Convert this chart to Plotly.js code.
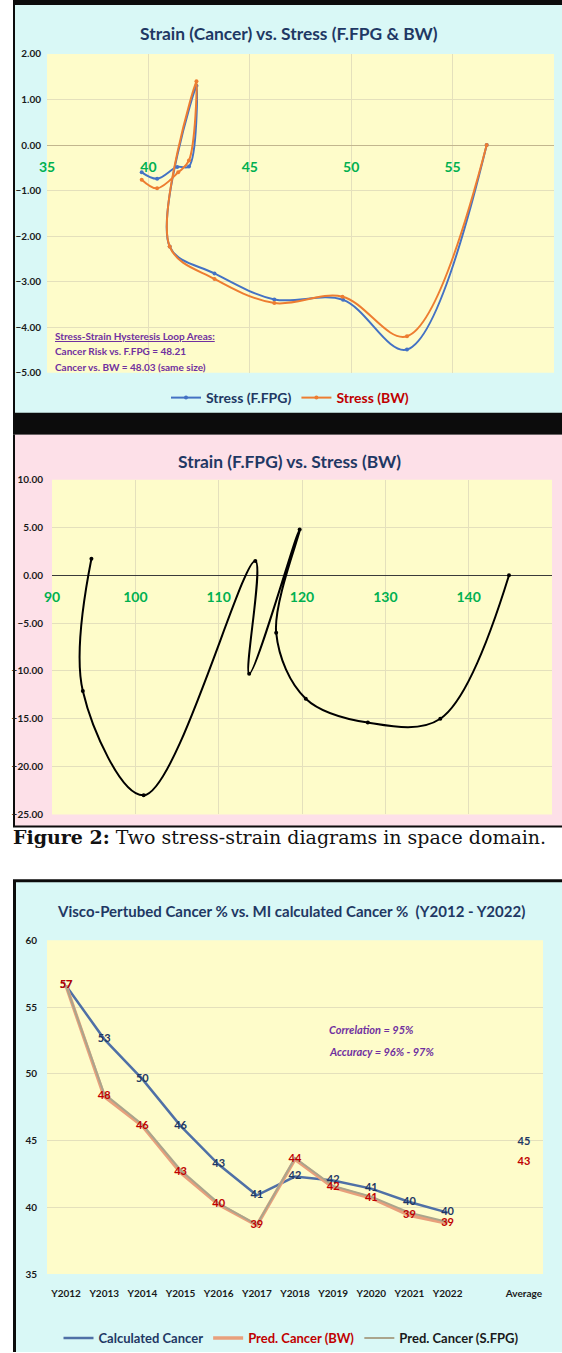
<!DOCTYPE html>
<html>
<head>
<meta charset="utf-8">
<script src="https://cdn.plot.ly/plotly-3.0.1.min.js"></script>
<style>
  html, body { margin: 0; padding: 0; background: #ffffff; }
  #chart { width: 562px; height: 1353px; }
</style>
</head>
<body>
<div id="chart"></div>
<script>
// ---------- DATA ----------
// Chart 1: Strain (Cancer) vs. Stress (F.FPG & BW)
const stressFFPG_x = [39.67, 40.43, 41.42, 42.0, 42.37, 41.05, 43.26, 46.21, 49.6, 52.75, 56.68];
const strainFFPG_y = [-0.6, -0.74, -0.48, -0.47, 1.3, -2.23, -2.82, -3.39, -3.40, -4.49, 0];
const stressBW_x = [39.67, 40.43, 41.47, 42.0, 42.37, 41.05, 43.26, 46.21, 49.57, 52.75, 56.68];
const strainBW_y = [-0.76, -0.95, -0.6, -0.34, 1.4, -2.23, -2.94, -3.47, -3.33, -4.2, 0];

// Chart 2: Strain (F.FPG) vs. Stress (BW)
const stress2_x = [94.73, 93.7, 101.0, 114.4, 113.66, 119.72, 116.9, 120.45, 127.9, 136.6, 144.84];
const strain2_y = [1.73, -12.1, -23.0, 1.5, -10.3, 4.8, -6.0, -12.9, -15.4, -15.0, 0];

// Chart 3: Visco-Pertubed Cancer % vs. MI calculated Cancer %
const categories = ['Y2012','Y2013','Y2014','Y2015','Y2016','Y2017','Y2018','Y2019','Y2020','Y2021','Y2022',' ','Average'];
const calcCancer = [56.6, 52.6, 49.6, 46.1, 43.2, 40.9, 42.3, 42.0, 41.4, 40.4, 39.6, null, 44.9];
const predBW     = [56.6, 48.3, 46.1, 42.6, 40.2, 38.65, 43.6, 41.5, 40.7, 39.4, 38.8, null, 43.35];
const predSFPG   = [56.6, 48.5, 46.2, 42.8, 40.3, 38.7, 43.7, 41.6, 40.8, 39.6, 38.9, null, 43.5];

// ---------- HELPERS ----------
const W = 562, H = 1353;
const X = p => p / W;
const Y = p => 1 - p / H;
const SANS = "Lato, 'Open Sans', sans-serif";
const NAVY = '#1f3864', DRED = '#c00000', PURPLE = '#7030a0', GREEN = '#00b050';
const CYAN = '#d9f8f6', PINK = '#fde0e8', YELLOW = '#fefcca', GRID = '#e4e0bc';

// plot areas (px)
const P1 = {l: 47, r: 554, t: 54, b: 373};
const P2 = {l: 52, r: 552, t: 480, b: 815};
const P3 = {l: 47, r: 543, t: 941, b: 1275};

function rect(x0, y0, x1, y1, color) {
  return {type: 'rect', xref: 'paper', yref: 'paper', layer: 'below',
          x0: X(x0), x1: X(x1), y0: Y(y0), y1: Y(y1),
          fillcolor: color, line: {width: 0}};
}
const labels = arr => arr.map(v => v == null ? '' : String(Math.round(v)));

// ---------- TRACES ----------
const traces = [
  {x: stressFFPG_x, y: strainFFPG_y, xaxis: 'x', yaxis: 'y', type: 'scatter', mode: 'lines+markers',
   name: 'Stress (F.FPG)', legend: 'legend',
   line: {color: '#4472c4', width: 2, shape: 'spline', smoothing: 1}, marker: {size: 4, color: '#4472c4'}},
  {x: stressBW_x, y: strainBW_y, xaxis: 'x', yaxis: 'y', type: 'scatter', mode: 'lines+markers',
   name: '<span style="color:' + DRED + '">Stress (BW)</span>', legend: 'legend',
   line: {color: '#ed7d31', width: 2, shape: 'spline', smoothing: 1}, marker: {size: 4, color: '#ed7d31'}},

  {x: stress2_x, y: strain2_y, xaxis: 'x2', yaxis: 'y2', type: 'scatter', mode: 'lines+markers',
   name: 'Strain (F.FPG)', showlegend: false,
   line: {color: '#000000', width: 2, shape: 'spline', smoothing: 1}, marker: {size: 4, color: '#000000'}},

  {x: categories, y: calcCancer, xaxis: 'x3', yaxis: 'y3', type: 'scatter', mode: 'lines',
   name: 'Calculated Cancer', legend: 'legend2', connectgaps: false,
   line: {color: '#4f70a6', width: 2.5}},
  {x: categories, y: predBW, xaxis: 'x3', yaxis: 'y3', type: 'scatter', mode: 'lines',
   name: '<span style="color:' + DRED + '">Pred. Cancer (BW)</span>', legend: 'legend2', connectgaps: false,
   line: {color: '#e8a07c', width: 3.5}},
  {x: categories, y: predSFPG, xaxis: 'x3', yaxis: 'y3', type: 'scatter', mode: 'lines',
   name: '<span style="color:#1a1a1a">Pred. Cancer (S.FPG)</span>', legend: 'legend2', connectgaps: false,
   line: {color: '#aaa58c', width: 2}},
  {x: categories, y: calcCancer, xaxis: 'x3', yaxis: 'y3', type: 'scatter', mode: 'text',
   text: labels(calcCancer), textposition: 'middle center', showlegend: false, hoverinfo: 'skip',
   textfont: {family: SANS, size: 11, color: NAVY, weight: 'bold'}},
  {x: categories, y: predBW, xaxis: 'x3', yaxis: 'y3', type: 'scatter', mode: 'text',
   text: labels(predBW), textposition: 'middle center', showlegend: false, hoverinfo: 'skip',
   textfont: {family: SANS, size: 11, color: DRED, weight: 'bold'}}
];

// ---------- SHAPES (backgrounds / frames) ----------
const shapes = [
  rect(13, 0, 562, 435, '#0c0c0c'),
  rect(15, 5, 562, 413, CYAN),
  rect(13, 435, 562, 828, '#0c0c0c'),
  rect(15, 435, 562, 826, PINK),
  rect(13, 880, 562, 1353, '#0c0c0c'),
  rect(16, 883, 562, 1353, CYAN),
  rect(P1.l, P1.t, P1.r, P1.b, YELLOW),
  rect(P2.l, P2.t, P2.r, P2.b, YELLOW),
  rect(P3.l, P3.t, P3.r, P3.b, YELLOW)
];

const tickY = {family: SANS, size: 10, color: '#1a1a1a', weight: 'bold'};
const tickX = {family: SANS, size: 14, color: GREEN, weight: 'bold'};
const titleFont = {family: SANS, size: 17.4, color: NAVY, weight: 'bold'};

function zeroPos(P, lo, hi) { // paper y of value 0
  const py = P.t + (hi / (hi - lo)) * (P.b - P.t);
  return Y(py);
}

const layout = {
  width: W, height: H,
  margin: {l: 0, r: 0, t: 0, b: 0, pad: 0},
  paper_bgcolor: '#ffffff',
  plot_bgcolor: 'rgba(0,0,0,0)',
  font: {family: SANS, color: NAVY},
  showlegend: true,
  shapes: shapes,

  xaxis: {domain: [X(P1.l), X(P1.r)], anchor: 'free', position: zeroPos(P1, -5, 2),
          range: [35, 60], dtick: 5, tick0: 35, showgrid: true, gridcolor: GRID, zeroline: false,
          showline: false, ticks: 'outside', ticklen: 9, tickcolor: 'rgba(0,0,0,0)',
          tickfont: tickX, fixedrange: true},
  yaxis: {domain: [Y(P1.b), Y(P1.t)], anchor: 'x', range: [-5, 2], dtick: 1, tickformat: '.2f',
          showgrid: true, gridcolor: GRID, zeroline: true, zerolinecolor: '#c2b68e', zerolinewidth: 1,
          showline: false, ticks: 'outside', ticklen: 3, tickcolor: 'rgba(0,0,0,0)', tickfont: tickY,
          fixedrange: true},

  xaxis2: {domain: [X(P2.l), X(P2.r)], anchor: 'free', position: zeroPos(P2, -25, 10),
           range: [90, 150], dtick: 10, tick0: 90, showgrid: true, gridcolor: GRID, zeroline: false,
           showline: false, ticks: 'outside', ticklen: 9, tickcolor: 'rgba(0,0,0,0)',
           tickfont: tickX, fixedrange: true},
  yaxis2: {domain: [Y(P2.b), Y(P2.t)], anchor: 'x2', range: [-25, 10], dtick: 5, tickformat: '.2f',
           showgrid: true, gridcolor: GRID, zeroline: true, zerolinecolor: '#3a3a3a', zerolinewidth: 1,
           showline: false, ticks: 'outside', ticklen: 6, tickcolor: 'rgba(0,0,0,0)', tickfont: tickY,
           fixedrange: true},

  xaxis3: {domain: [X(P3.l), X(P3.r)], anchor: 'y3', type: 'category', range: [-0.5, 12.5],
           showgrid: false, zeroline: false, showline: false,
           ticks: 'outside', ticklen: 10, tickcolor: 'rgba(0,0,0,0)',
           tickfont: {family: SANS, size: 10, color: '#1a1a1a', weight: 'bold'}, fixedrange: true},
  yaxis3: {domain: [Y(P3.b), Y(P3.t)], anchor: 'x3', range: [35, 60], dtick: 5,
           showgrid: true, gridcolor: GRID, zeroline: false, showline: false,
           ticks: 'outside', ticklen: 7, tickcolor: 'rgba(0,0,0,0)', tickfont: tickY, fixedrange: true},

  legend: {orientation: 'h', x: X(290), xanchor: 'center', y: Y(398), yanchor: 'middle',
           bgcolor: 'rgba(0,0,0,0)', font: {family: SANS, size: 14, color: NAVY, weight: 'bold'},
           itemwidth: 30, traceorder: 'normal'},
  legend2: {orientation: 'h', x: X(291), xanchor: 'center', y: Y(1339), yanchor: 'middle',
            bgcolor: 'rgba(0,0,0,0)', font: {family: SANS, size: 13, color: NAVY, weight: 'bold'},
            itemwidth: 30, traceorder: 'normal'},

  annotations: [
    {xref: 'paper', yref: 'paper', x: X(289), y: Y(34), text: 'Strain (Cancer) vs. Stress (F.FPG &amp; BW)',
     showarrow: false, xanchor: 'center', yanchor: 'middle', font: titleFont},
    {xref: 'paper', yref: 'paper', x: X(53), y: Y(336), text: '<u>Stress-Strain Hysteresis Loop Areas:</u>',
     showarrow: false, xanchor: 'left', yanchor: 'middle',
     font: {family: SANS, size: 10, color: PURPLE, weight: 'bold'}},
    {xref: 'paper', yref: 'paper', x: X(53), y: Y(351), text: 'Cancer Risk vs. F.FPG = 48.21',
     showarrow: false, xanchor: 'left', yanchor: 'middle',
     font: {family: SANS, size: 10, color: PURPLE, weight: 'bold'}},
    {xref: 'paper', yref: 'paper', x: X(53), y: Y(367), text: 'Cancer vs. BW = 48.03 (same size)',
     showarrow: false, xanchor: 'left', yanchor: 'middle',
     font: {family: SANS, size: 10, color: PURPLE, weight: 'bold'}},

    {xref: 'paper', yref: 'paper', x: X(289), y: Y(462), text: 'Strain (F.FPG) vs. Stress (BW)',
     showarrow: false, xanchor: 'center', yanchor: 'middle', font: titleFont},

    {xref: 'paper', yref: 'paper', x: X(11), y: Y(838),
     text: '<b>Figure 2:</b> Two stress-strain diagrams in space domain.',
     showarrow: false, xanchor: 'left', yanchor: 'middle',
     font: {family: "'DejaVu Serif', 'Liberation Serif', serif", size: 19, color: '#111111'}},

    {xref: 'paper', yref: 'paper', x: X(291), y: Y(912),
     text: 'Visco-Pertubed Cancer % vs. MI calculated Cancer % \u00a0(Y2012 - Y2022)',
     showarrow: false, xanchor: 'center', yanchor: 'middle',
     font: {family: SANS, size: 15, color: NAVY, weight: 'bold'}},
    {xref: 'paper', yref: 'paper', x: X(327), y: Y(1030), text: '<i>Correlation = 95%</i>',
     showarrow: false, xanchor: 'left', yanchor: 'middle',
     font: {family: SANS, size: 11, color: PURPLE, weight: 'bold'}},
    {xref: 'paper', yref: 'paper', x: X(327), y: Y(1052), text: '<i>Accuracy = 96% - 97%</i>',
     showarrow: false, xanchor: 'left', yanchor: 'middle',
     font: {family: SANS, size: 11, color: PURPLE, weight: 'bold'}}
  ]
};

Plotly.newPlot('chart', traces, layout, {staticPlot: true, displayModeBar: false});
</script>
</body>
</html>
